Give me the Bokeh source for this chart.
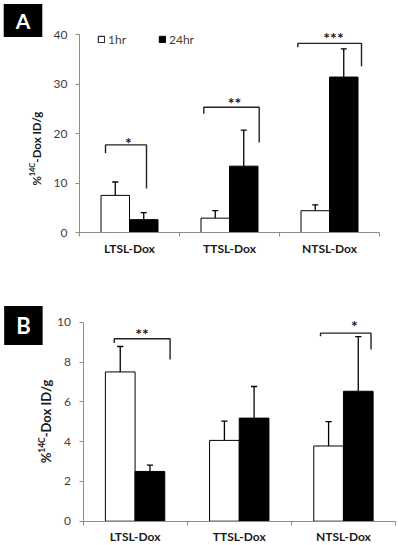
from bokeh.plotting import figure
from bokeh.models import (Range1d, FixedTicker, Label, Legend, LegendItem,
                          ColumnDataSource, LinearAxis)
from bokeh.layouts import column
from bokeh.embed import file_html
from bokeh.resources import INLINE
from bokeh.core.properties import value

# ---------------- data ----------------
categories = ["LTSL-Dox", "TTSL-Dox", "NTSL-Dox"]
series = ["1hr", "24hr"]

a_1hr = [7.5, 2.9, 4.4]
a_1hr_err = [2.7, 1.5, 1.2]
a_24hr = [2.6, 13.4, 31.4]
a_24hr_err = [1.4, 7.3, 5.7]
a_yticks = [0, 10, 20, 30, 40]

b_1hr = [7.5, 4.06, 3.78]
b_1hr_err = [1.28, 0.97, 1.22]
b_24hr = [2.5, 5.18, 6.53]
b_24hr_err = [0.32, 1.59, 2.75]
b_yticks = [0, 2, 4, 6, 8, 10]

# significance brackets
a_sig_cat = [0, 1, 2]
a_sig_text = ["*", "**", "***"]
a_sig_top = [17.7, 25.3, 38.2]
a_sig_left_end = [16.0, 24.0, 37.4]
a_sig_right_end = [8.9, 18.2, 33.6]
a_sig_star = [18.8, 26.9, 40.1]

b_sig_cat = [0, 2]
b_sig_text = ["**", "*"]
b_sig_top = [9.17, 9.45]
b_sig_left_end = [8.95, 9.3]
b_sig_right_end = [8.13, 8.63]
b_sig_star = [9.58, 10.0]

# bracket arm offsets from category centre (layout)
a_arm_left = [-0.24, -0.257, -0.317]
a_arm_right = [0.17, 0.297, 0.32]
a_star_dx = [-0.01, 0.05, 0.04]
b_arm_left = [-0.2, -0.22]
b_arm_right = [0.336, 0.265]
b_star_dx = [0.066, 0.105]

FONT = "Lato"
BAR_W = 0.285
AXIS_COL = "#8c8c8c"
TICK_COL = "#404040"
W = 396

CHAR_W = {"%": 0.80, "1": 0.58, "4": 0.58, "C": 0.67, "-": 0.36, "D": 0.75,
          "o": 0.58, "x": 0.53, " ": 0.26, "I": 0.30, "/": 0.40, "g": 0.52}


def text_w(s, size):
    return sum(CHAR_W.get(c, 0.55) for c in s) * size


def add_ylabel(p, xc, yc, size):
    sup = size * 0.65
    parts = [("%", size, 0), ("14C", sup, -size * 0.33), ("-Dox ID/g", size, 0)]
    widths = [text_w(t, s) for t, s, _ in parts]
    total = sum(widths)
    start = -total / 2
    for (t, s, dx), w in zip(parts, widths):
        p.add_layout(Label(x=xc, y=yc, x_offset=dx, y_offset=start, text=t,
                           angle=1.5707963, text_align="left", text_baseline="middle",
                           text_font=FONT, text_font_style="bold",
                           text_font_size=f"{s:.1f}px", text_color="#1a1a1a"))
        start += w


def make_panel(vals1, err1, vals2, err2, yticks, xr, yr, height, sig, arms, letter,
               letter_pos, letter_size, letter_pad, ylab_pos, ylab_size, legend_loc=None):
    p = figure(width=W, height=height, output_backend="svg", toolbar_location=None,
               x_range=Range1d(*xr), y_range=Range1d(*yr),
               x_axis_location=None, y_axis_location=None,
               min_border=0, min_border_top=0, min_border_bottom=0,
               min_border_left=0, min_border_right=0)
    p.grid.visible = False
    p.outline_line_color = None
    p.background_fill_color = "white"
    p.border_fill_color = "white"

    n = len(categories)
    x1 = [i + 0.5 - BAR_W / 2 for i in range(n)]
    x2 = [i + 0.5 + BAR_W / 2 for i in range(n)]
    s1 = ColumnDataSource(dict(x=x1, top=vals1, etop=[v + e for v, e in zip(vals1, err1)]))
    s2 = ColumnDataSource(dict(x=x2, top=vals2, etop=[v + e for v, e in zip(vals2, err2)]))

    for s in (s1, s2):
        p.segment(x0="x", y0="top", x1="x", y1="etop", source=s, line_color="black", line_width=1.3)
    cap = 0.03
    for s in (s1, s2):
        d = s.data
        p.segment(x0=[x - cap for x in d["x"]], y0=d["etop"], x1=[x + cap for x in d["x"]],
                  y1=d["etop"], line_color="black", line_width=1.3)
    r1 = p.vbar(x="x", top="top", width=BAR_W, source=s1, fill_color="white",
                line_color="black", line_width=1)
    r2 = p.vbar(x="x", top="top", width=BAR_W, source=s2, fill_color="black",
                line_color="black", line_width=1)

    cats, texts, stop, lend, rend, star = sig
    al, ar, sdx = arms
    xs, ys = [], []
    for c, t0, l0, r0, a0, a1 in zip(cats, stop, lend, rend, al, ar):
        cx = c + 0.5
        xs.append([cx + a0, cx + a0, cx + a1, cx + a1])
        ys.append([l0, t0, t0, r0])
    p.multi_line(xs=xs, ys=ys, line_color="#222222", line_width=1.4)
    p.text(x=[c + 0.5 + d for c, d in zip(cats, sdx)], y=star, text=texts,
           text_align="center", text_baseline="middle", y_offset=3,
           text_font=value(FONT), text_font_style="bold", text_font_size="16px",
           text_color="#1a1a1a")

    # axes placed at data zero
    xa = LinearAxis(fixed_location=0)
    xa.bounds = (0, n)
    xa.ticker = FixedTicker(ticks=[i + 0.5 for i in range(n)], minor_ticks=list(range(n + 1)))
    xa.major_label_overrides = {i + 0.5: c for i, c in enumerate(categories)}
    xa.major_tick_line_color = None
    xa.major_tick_out = 0
    xa.minor_tick_in = 0
    xa.minor_tick_out = 4
    xa.minor_tick_line_color = AXIS_COL
    xa.axis_line_color = AXIS_COL
    xa.major_label_text_font = FONT
    xa.major_label_text_font_style = "bold"
    xa.major_label_text_font_size = "12px"
    xa.major_label_text_color = "#1a1a1a"
    xa.major_label_standoff = 4
    p.add_layout(xa, "below")

    ya = LinearAxis(fixed_location=0)
    ya.ticker = FixedTicker(ticks=yticks)
    ya.bounds = (yticks[0], yticks[-1])
    ya.minor_tick_line_color = None
    ya.major_tick_in = 0
    ya.major_tick_out = 4
    ya.major_tick_line_color = AXIS_COL
    ya.axis_line_color = AXIS_COL
    ya.major_label_text_font = FONT
    ya.major_label_text_font_size = "12px"
    ya.major_label_text_color = TICK_COL
    ya.major_label_standoff = 8
    p.add_layout(ya, "left")

    add_ylabel(p, ylab_pos[0], ylab_pos[1], ylab_size)

    p.add_layout(Label(x=letter_pos[0], y=letter_pos[1], text=letter, text_align="center",
                       text_baseline="middle", text_font=FONT, text_font_style="bold",
                       text_font_size=letter_size, text_color="white",
                       background_fill_color="black", padding=letter_pad))

    if legend_loc is not None:
        lg = Legend(items=[LegendItem(label=series[0], renderers=[r1]),
                           LegendItem(label=series[1], renderers=[r2])],
                    location=legend_loc, orientation="horizontal",
                    glyph_width=8, glyph_height=8, label_height=10, label_standoff=3,
                    spacing=30, padding=0, margin=0, border_line_color=None,
                    background_fill_alpha=0, label_text_font=FONT,
                    label_text_font_size="12px", label_text_color=TICK_COL)
        p.add_layout(lg)
    return p


# panel A: data 0 at x=79px, 100 px/unit; y 0 at 232px, 4.95 px/unit
HA = 270
pa = make_panel(a_1hr, a_1hr_err, a_24hr, a_24hr_err, a_yticks,
                (-0.79, (W - 79) / 100), (-(HA - 232) / 4.95, 232 / 4.95), HA,
                (a_sig_cat, a_sig_text, a_sig_top, a_sig_left_end, a_sig_right_end, a_sig_star),
                (a_arm_left, a_arm_right, a_star_dx), "A", (-0.565, 42.83), "21px", (12, 4),
                (-0.433, 16.97), 11.5, legend_loc=(97, HA - 46.5))

# panel B: data 0 at x=82.5px, 104.17 px/unit; y 0 at 250.7px from top, 19.9 px/unit
HB = 274
pb = make_panel(b_1hr, b_1hr_err, b_24hr, b_24hr_err, b_yticks,
                (-82.5 / 104.17, (W - 82.5) / 104.17), (-(HB - 250.7) / 19.9, 250.7 / 19.9), HB,
                (b_sig_cat, b_sig_text, b_sig_top, b_sig_left_end, b_sig_right_end, b_sig_star),
                (b_arm_left, b_arm_right, b_star_dx), "B", (-0.572, 9.83), "22px", (12, 6),
                (-0.353, 5.02), 13)

layout = column(pa, pb, spacing=0)
open("out.html", "w").write(file_html(layout, INLINE))
